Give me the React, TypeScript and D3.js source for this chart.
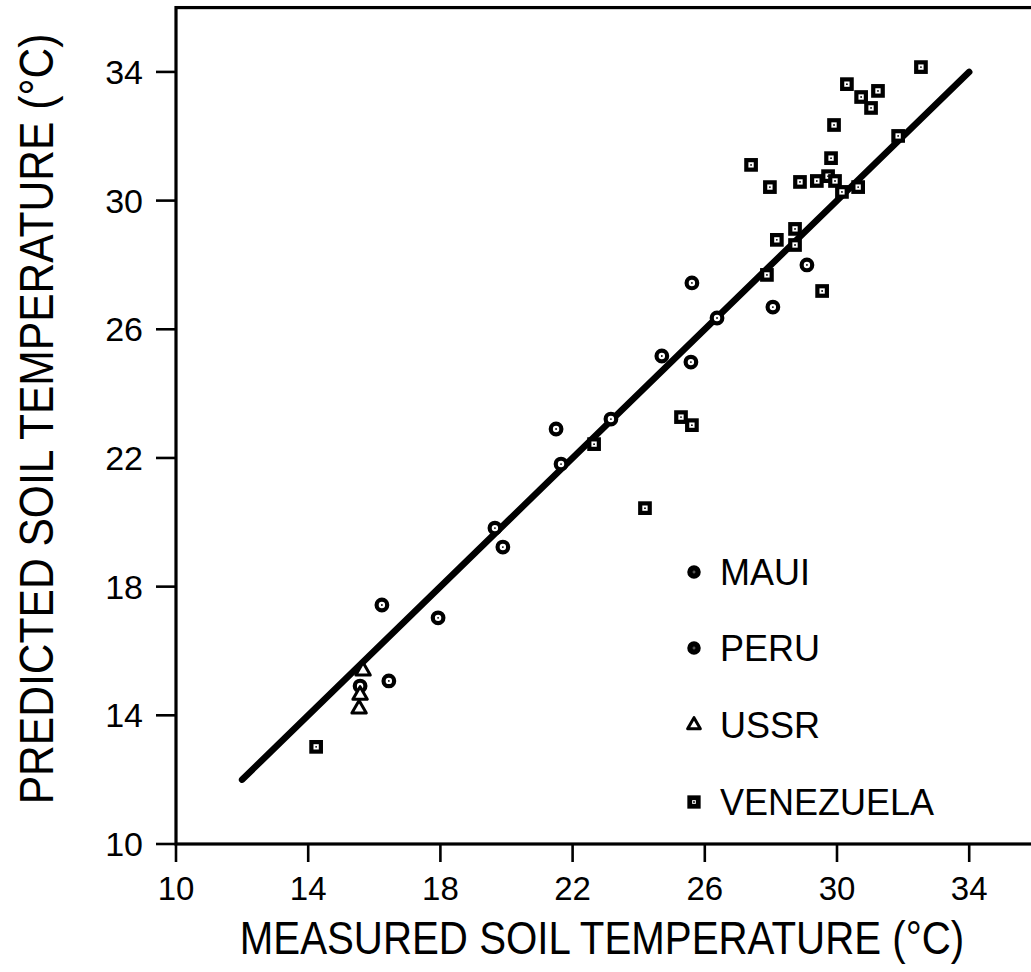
import React from "react";
import * as d3 from "d3";

// ---- data (measured °C, predicted °C) ----
const mauiMeasured = [24.7, 25.61, 25.58, 28.06, 29.09, 21.5, 23.16, 21.65, 26.37];
const mauiPredicted = [25.17, 27.44, 24.98, 26.69, 28.0, 22.9, 23.21, 21.81, 26.35];

const peruMeasured = [19.65, 19.89, 16.23, 17.93, 16.44, 15.57];
const peruPredicted = [19.82, 19.23, 17.43, 17.03, 15.07, 14.91];

const ussrMeasured = [15.66, 15.57, 15.54];
const ussrPredicted = [15.38, 14.63, 14.2];

const venMeasured = [
  14.24, 22.65, 25.28, 25.61, 24.19, 32.54, 30.3, 30.73, 31.24, 31.03, 29.91, 31.85,
  29.82, 27.4, 27.97, 28.88, 29.39, 29.73, 29.94, 30.15, 30.64, 28.73, 28.18, 28.73,
  27.88, 29.55,
];
const venPredicted = [
  13.02, 22.43, 23.27, 23.02, 20.44, 34.15, 33.62, 33.22, 33.41, 32.88, 32.35, 32.01,
  31.32, 31.11, 30.42, 30.58, 30.61, 30.76, 30.61, 30.27, 30.42, 29.12, 28.78, 28.62,
  27.69, 27.19,
];

const fitX = [12, 34];
const fitY = [12, 34];

const tickValues = [10, 14, 18, 22, 26, 30, 34];
const domain = [10, 36];

const legendLabels = ["MAUI", "PERU", "USSR", "VENEZUELA"];
const legendShapes = ["circle", "circle", "triangle", "square"];

const xTitle = "MEASURED SOIL TEMPERATURE (°C)";
const yTitle = "PREDICTED SOIL TEMPERATURE (°C)";

const FONT = "'Liberation Sans', Arial, sans-serif";

function zip(xs: number[], ys: number[]) {
  return xs.map((x, i) => ({ x, y: ys[i] }));
}

function Marker({ shape, cx, cy, legend }: { shape: string; cx: number; cy: number; legend?: boolean }) {
  if (shape === "circle") {
    return (
      <g>
        <circle cx={cx} cy={cy} r={legend ? 4 : 5.3} fill="#fff" stroke="#000" strokeWidth={legend ? 5.5 : 4.2} />
        <circle cx={cx} cy={cy} r={0.9} fill="#000" />
      </g>
    );
  }
  if (shape === "square") {
    const s = legend ? 8.5 : 9.5;
    return (
      <g>
        <rect x={cx - s / 2} y={cy - s / 2} width={s} height={s} fill="#fff" stroke="#000" strokeWidth={legend ? 4.8 : 4.2} />
        <circle cx={cx} cy={cy} r={0.9} fill="#000" />
      </g>
    );
  }
  const tri = d3.symbol(d3.symbolTriangle, legend ? 70 : 90)();
  return <path d={tri || ""} transform={`translate(${cx},${cy})`} fill="#fff" stroke="#000" strokeWidth={3} strokeLinejoin="round" />;
}

export default function App() {
  const x = d3.scaleLinear().domain(domain).range([176, 176 + 26 * 33.05]);
  const y = d3.scaleLinear().domain(domain).range([844, 844 - 26 * 32.17]);

  const series = [
    { shape: "circle", pts: zip(mauiMeasured, mauiPredicted) },
    { shape: "circle", pts: zip(peruMeasured, peruPredicted) },
    { shape: "triangle", pts: zip(ussrMeasured, ussrPredicted) },
    { shape: "square", pts: zip(venMeasured, venPredicted) },
  ];

  const line = d3
    .line<{ x: number; y: number }>()
    .x((d) => x(d.x))
    .y((d) => y(d.y));

  const legendRows = [572, 648, 725, 802];

  return (
    <svg
      width={1031}
      height={972}
      style={{ position: "absolute", left: 0, top: 0, display: "block", background: "#fff" }}
    >
      <rect x={0} y={0} width={1031} height={972} fill="#fff" />
      {/* frame */}
      <rect
        x={x(10)}
        y={y(36)}
        width={x(36) - x(10)}
        height={y(10) - y(36)}
        fill="none"
        stroke="#000"
        strokeWidth={3.2}
      />
      {/* y ticks */}
      {tickValues.map((t) => (
        <g key={"y" + t}>
          <line x1={x(10) - 20} x2={x(10)} y1={y(t)} y2={y(t)} stroke="#000" strokeWidth={2.6} />
          <text x={143} y={y(t) + 12} textAnchor="end" fontFamily={FONT} fontSize={34} fill="#000">
            {t}
          </text>
        </g>
      ))}
      {/* x ticks */}
      {tickValues.map((t) => (
        <g key={"x" + t}>
          <line x1={x(t)} x2={x(t)} y1={y(10)} y2={y(10) + 18} stroke="#000" strokeWidth={2.6} />
          <text x={x(t)} y={900} textAnchor="middle" fontFamily={FONT} fontSize={33} fill="#000">
            {t}
          </text>
        </g>
      ))}
      {/* fit line */}
      <path
        d={line(zip(fitX, fitY)) || ""}
        stroke="#000"
        strokeWidth={6.5}
        strokeLinecap="round"
        fill="none"
      />
      {/* points */}
      {series.map((s, si) =>
        s.pts.map((p, i) => <Marker key={si + "-" + i} shape={s.shape} cx={x(p.x)} cy={y(p.y)} />)
      )}
      {/* legend */}
      {legendLabels.map((lab, i) => (
        <g key={lab}>
          <Marker shape={legendShapes[i]} cx={694} cy={legendRows[i]} legend />
          <text x={720} y={legendRows[i] + 13} fontFamily={FONT} fontSize={36} fill="#000">
            {lab}
          </text>
        </g>
      ))}
      {/* axis titles */}
      <g transform="translate(602,954) scale(0.857,1)">
        <text x={0} y={0} textAnchor="middle" fontFamily={FONT} fontSize={47} fill="#000">
          {xTitle}
        </text>
      </g>
      <g transform="translate(53,419) rotate(-90) scale(0.887,1)">
        <text x={0} y={0} textAnchor="middle" fontFamily={FONT} fontSize={48} fill="#000">
          {yTitle}
        </text>
      </g>
    </svg>
  );
}
